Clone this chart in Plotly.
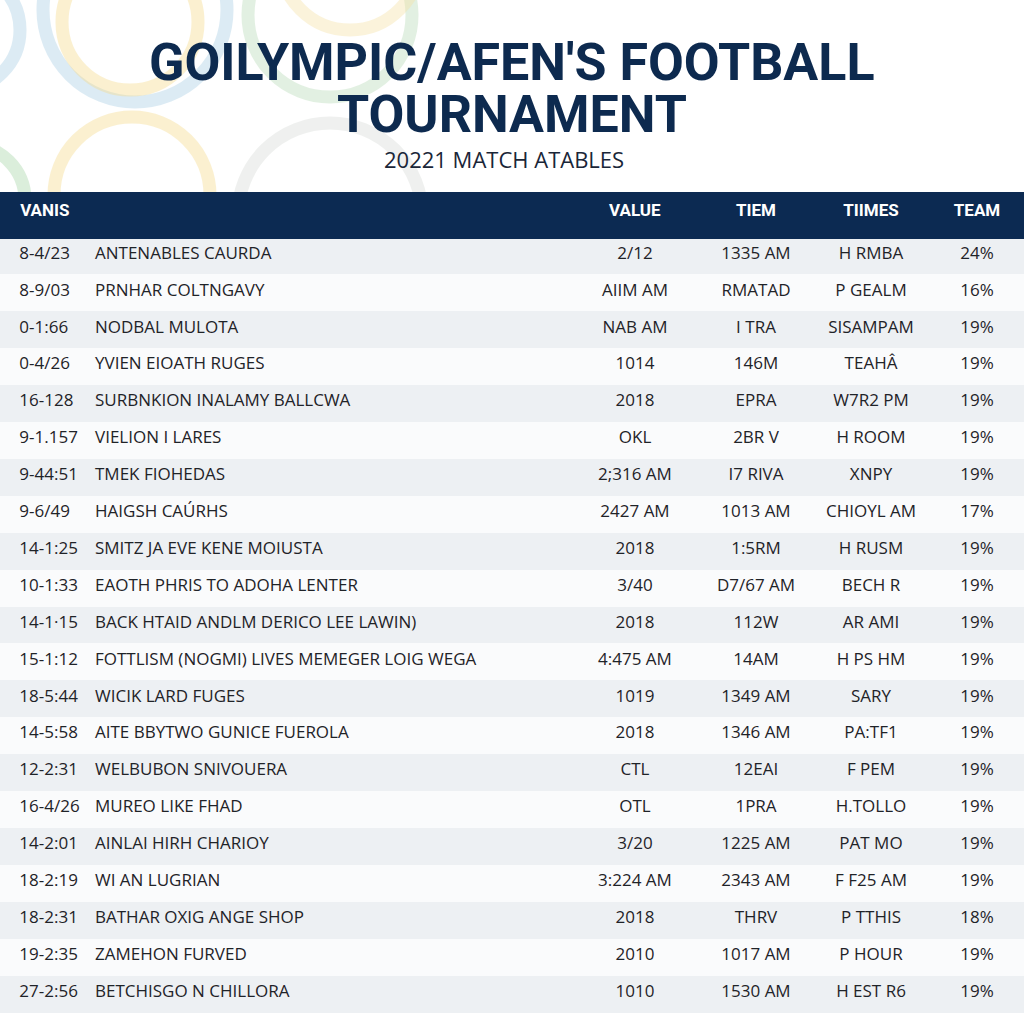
import plotly.graph_objects as go

codes = ["8-4/23", "8-9/03", "0-1:66", "0-4/26", "16-128", "9-1.157", "9-44:51", "9-6/49",
         "14-1:25", "10-1:33", "14-1·15", "15-1:12", "18-5:44", "14-5:58", "12-2:31", "16-4/26",
         "14-2:01", "18-2:19", "18-2:31", "19-2:35", "27-2:56"]
names = ["ANTENABLES CAURDA", "PRNHAR COLTNGAVY", "NODBAL MULOTA", "YVIEN EIOATH RUGES",
         "SURBNKION INALAMY BALLCWA", "VIELION I LARES", "TMEK FIOHEDAS", "HAIGSH CAÚRHS",
         "SMITZ JA EVE KENE MOIUSTA", "EAOTH PHRIS TO ADOHA LENTER", "BACK HTAID ANDLM DERICO LEE LAWIN)",
         "FOTTLISM (NOGMI) LIVES MEMEGER LOIG WEGA", "WICIK LARD FUGES", "AITE BBYTWO GUNICE FUEROLA",
         "WELBUBON SNIVOUERA", "MUREO LIKE FHAD", "AINLAI HIRH CHARIOY", "WI AN LUGRIAN",
         "BATHAR OXIG ANGE SHOP", "ZAMEHON FURVED", "BETCHISGO N CHILLORA"]
values = ["2/12", "AIIM AM", "NAB AM", "1014", "2018", "OKL", "2;316 AM", "2427 AM", "2018", "3/40",
          "2018", "4:475 AM", "1019", "2018", "CTL", "OTL", "3/20", "3:224 AM", "2018", "2010", "1010"]
tiem = ["1335 AM", "RMATAD", "I TRA", "146M", "EPRA", "2BR V", "I7 RIVA", "1013 AM", "1:5RM",
        "D7/67 AM", "112W", "14AM", "1349 AM", "1346 AM", "12EAI", "1PRA", "1225 AM", "2343 AM",
        "THRV", "1017 AM", "1530 AM"]
times = ["H RMBA", "P GEALM", "SISAMPAM", "TEAHÂ", "W7R2 PM", "H ROOM", "XNPY", "CHIOYL AM",
         "H RUSM", "BECH R", "AR AMI", "H PS HM", "SARY", "PA:TF1", "F PEM", "H.TOLLO", "PAT MO",
         "F F25 AM", "P TTHIS", "P HOUR", "H EST R6"]
team = ["24%", "16%", "19%", "19%", "19%", "19%", "19%", "17%", "19%", "19%", "19%", "19%",
        "19%", "19%", "19%", "19%", "19%", "19%", "18%", "19%", "19%"]
headers = ["VANIS", "", "VALUE", "TIEM", "TIIMES", "TEAM"]

n = len(codes)
row_fill = ["#edf0f3" if i % 2 == 0 else "#fafbfc" for i in range(n)]

navy = "#0c2a52"
body_font = "Open Sans, Noto Sans, sans-serif"
head_font = "Roboto, sans-serif"
indent = "\u2002\u2009"

fig = go.Figure()

fig.add_trace(go.Table(
    domain=dict(x=[0.0, 1.0], y=[0.0, 1 - 192 / 1024]),
    columnwidth=[87, 483, 130, 112, 118, 94],
    header=dict(
        values=[f"<b>{h}</b>" if h else "" for h in headers],
        prefix=[indent, "", "", "", "", ""],
        fill_color=navy,
        line=dict(color=navy, width=1),
        align=["left", "left", "center", "center", "center", "center"],
        font=dict(family=head_font, size=17, color="white"),
        height=46,
    ),
    cells=dict(
        values=[codes, names, values, tiem, times, team],
        prefix=[indent, "", "", "", "", ""],
        fill_color=[row_fill] * 6,
        line=dict(color=[row_fill] * 6, width=1),
        align=["left", "left", "center", "center", "center", "center"],
        font=dict(family=body_font, size=17, color="#1f2328"),
        height=36.9,
    ),
))

# faint Olympic-ring style background decoration
rings = [
    (-40, 30, 60, "#a9cfe6"),
    (135, 10, 92, "#a9cfe6"),
    (130, 22, 68, "#f6dc8c"),
    (132, 195, 78, "#f6dc8c"),
    (-30, 200, 55, "#a6d6a8"),
    (330, 15, 82, "#b8dcb8"),
    (330, 215, 92, "#d8dcd8"),
    (350, -40, 70, "#f6e3a6"),
]
for cx, cy, r, col in rings:
    fig.add_shape(type="circle", xref="paper", yref="paper",
                  x0=(cx - r) / 1024, x1=(cx + r) / 1024,
                  y0=1 - (cy + r) / 1024, y1=1 - (cy - r) / 1024,
                  line=dict(color=col, width=13), opacity=0.4, layer="below")

title_font = "Roboto, sans-serif"
fig.add_annotation(text="<b>GOILYMPIC/AFEN'S FOOTBALL</b>", x=0.5, y=1 - 62 / 1024,
                   xref="paper", yref="paper", showarrow=False, xanchor="center", yanchor="middle",
                   font=dict(family=title_font, size=52, color="#0d2a4f"))
fig.add_annotation(text="<b>TOURNAMENT</b>", x=0.5, y=1 - 114 / 1024,
                   xref="paper", yref="paper", showarrow=False, xanchor="center", yanchor="middle",
                   font=dict(family=title_font, size=52, color="#0d2a4f"))
fig.add_annotation(text="20221 MATCH ATABLES", x=0.4917, y=1 - 159 / 1024,
                   xref="paper", yref="paper", showarrow=False, xanchor="center", yanchor="middle",
                   font=dict(family=body_font, size=22, color="#1a2638"))

fig.update_layout(
    width=1024, height=1024,
    margin=dict(l=0, r=0, t=0, b=0),
    paper_bgcolor="white", plot_bgcolor="white",
    xaxis=dict(visible=False), yaxis=dict(visible=False),
    showlegend=False,
)

fig.write_html("out.html", config={"displayModeBar": False},
               post_script="document.body.style.margin='0';")
